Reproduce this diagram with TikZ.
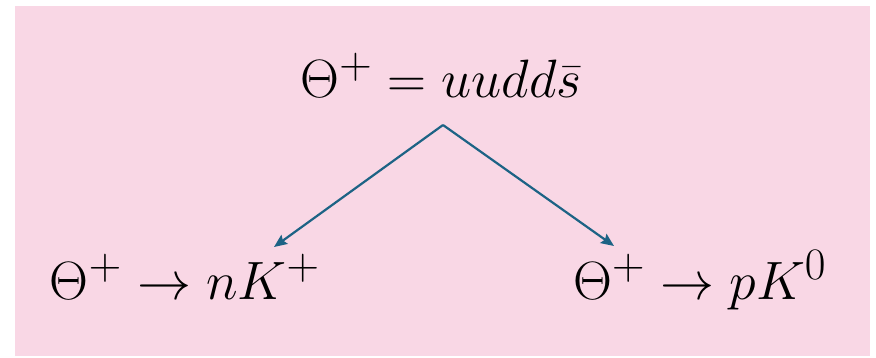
\documentclass[tikz,border=0pt]{standalone}
\usepackage{amsmath}
\usepackage{graphicx}
\usepackage{tikz}
\usepackage{xcolor}
\usetikzlibrary{arrows.meta, positioning}
\definecolor{Decay_Pink}{HTML}{F9D7E5}
\definecolor{Decay_Blue}{HTML}{1D6385}
\newcommand{\bigeq}[1]{\scalebox{2.17}{\Huge$#1$}}

\begin{document}
\begin{tikzpicture}[x=1pt, y=-1pt]
\tikzset{
  eqlabel/.style={anchor=base, inner sep=0pt},
  decayarrow/.style={-{Stealth[length=13pt, width=11pt, inset=2pt]}, line width=2.2pt, draw=Decay_Blue}
}
% Canvas
\useasboundingbox (0,0) rectangle (876,358);
\fill[Decay_Pink] (15,6) rectangle (870,356);
% Equations
\node[eqlabel] (theta) at (441,98) {\bigeq{\Theta^+ = uudd\bar{s}}};
\node[eqlabel] (nK) at (185,299) {\bigeq{\Theta^+ \to nK^+}};
\node[eqlabel] (pK) at (700,299) {\bigeq{\Theta^+ \to pK^0}};
% Arrows
\coordinate (apex) at (443,125);
\coordinate (nEnd) at (274,247);
\coordinate (pEnd) at (614,246);
\draw[decayarrow] (apex) -- (nEnd);
\draw[decayarrow] (apex) -- (pEnd);
\end{tikzpicture}
\end{document}
